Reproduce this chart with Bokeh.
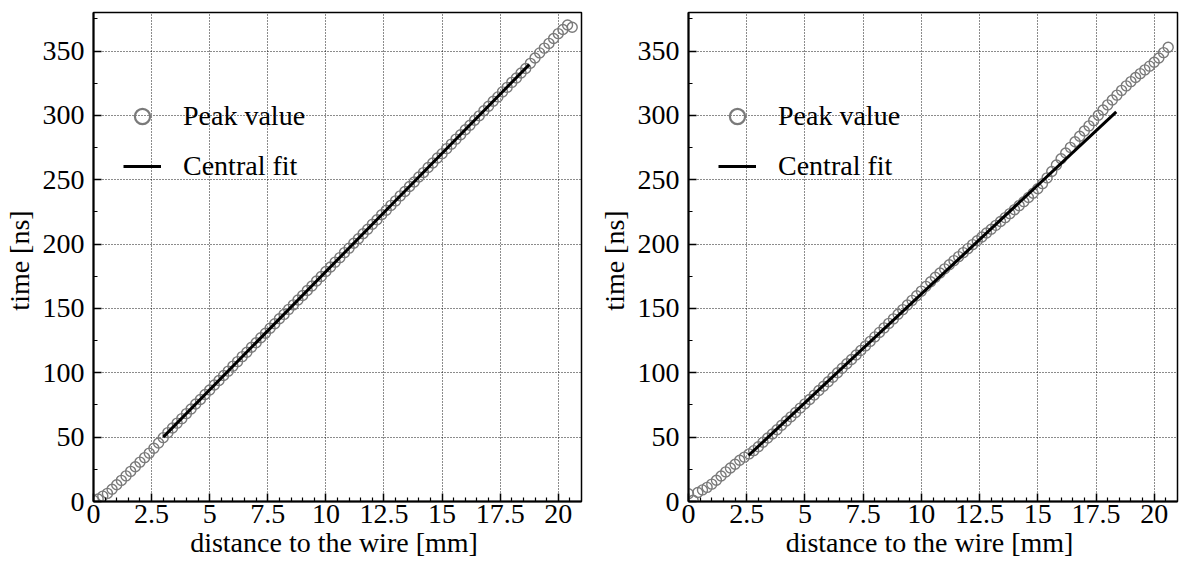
from bokeh.plotting import figure
from bokeh.layouts import row
from bokeh.models import FixedTicker, Range1d, Legend, LegendItem
from bokeh.embed import file_html
from bokeh.resources import INLINE

# ---------------- data ----------------
distance_mm = [
    0.0, 0.2, 0.4, 0.6, 0.8, 1.0, 1.2, 1.4, 1.6, 1.8,
    2.0, 2.2, 2.4, 2.6, 2.8, 3.0, 3.2, 3.4, 3.6, 3.8,
    4.0, 4.2, 4.4, 4.6, 4.8, 5.0, 5.2, 5.4, 5.6, 5.8,
    6.0, 6.2, 6.4, 6.6, 6.8, 7.0, 7.2, 7.4, 7.6, 7.8,
    8.0, 8.2, 8.4, 8.6, 8.8, 9.0, 9.2, 9.4, 9.6, 9.8,
    10.0, 10.2, 10.4, 10.6, 10.8, 11.0, 11.2, 11.4, 11.6, 11.8,
    12.0, 12.2, 12.4, 12.6, 12.8, 13.0, 13.2, 13.4, 13.6, 13.8,
    14.0, 14.2, 14.4, 14.6, 14.8, 15.0, 15.2, 15.4, 15.6, 15.8,
    16.0, 16.2, 16.4, 16.6, 16.8, 17.0, 17.2, 17.4, 17.6, 17.8,
    18.0, 18.2, 18.4, 18.6, 18.8, 19.0, 19.2, 19.4, 19.6, 19.8,
    20.0, 20.2, 20.4, 20.6,
]

peak_left_ns = [
    1.0, 2.0, 4.2, 6.3, 9.5, 13.0, 16.4, 19.9, 23.4, 27.0,
    30.6, 34.1, 37.6, 41.4, 45.4, 49.6, 53.5, 57.1, 60.9, 64.4,
    68.3, 71.9, 75.8, 79.3, 83.2, 86.6, 90.5, 94.0, 97.9, 101.3,
    105.2, 108.7, 112.6, 116.0, 119.9, 123.4, 127.3, 130.7, 134.6, 138.1,
    142.0, 145.4, 149.3, 152.8, 156.6, 160.1, 164.0, 167.5, 171.3, 174.8,
    178.7, 182.2, 186.0, 189.5, 193.4, 196.9, 200.7, 204.2, 208.1, 211.6,
    215.4, 218.9, 222.8, 226.3, 230.1, 233.6, 237.5, 240.9, 244.8, 248.3,
    252.2, 255.6, 259.5, 263.0, 266.9, 270.3, 274.2, 277.7, 281.6, 285.0,
    288.9, 292.4, 296.3, 299.7, 303.6, 307.1, 311.0, 314.4, 318.3, 321.8,
    325.7, 329.1, 333.0, 336.5, 340.5, 344.6, 348.6, 352.3, 356.0, 359.8,
    363.6, 366.8, 370.3, 368.5,
]

peak_right_ns = [
    6.0, 1.0, 7.0, 9.0, 11.0, 13.5, 16.5, 19.8, 23.0, 26.0,
    29.0, 32.0, 34.5, 37.0, 39.5, 42.5, 46.0, 49.3, 52.5, 55.8,
    59.2, 62.5, 65.8, 69.2, 72.6, 75.9, 79.3, 82.7, 86.2, 89.6,
    93.0, 96.5, 100.0, 103.5, 107.0, 110.4, 113.9, 117.4, 120.9, 124.4,
    127.9, 131.4, 134.9, 138.4, 141.9, 145.5, 149.1, 152.7, 156.3, 159.9,
    163.5, 167.2, 170.8, 174.3, 177.6, 180.8, 184.0, 187.2, 190.3, 193.4,
    196.5, 199.6, 202.6, 205.6, 208.6, 211.6, 214.6, 217.6, 220.6, 223.7,
    226.8, 229.9, 233.0, 236.2, 239.5, 243.0, 247.0, 251.5, 256.5, 261.5,
    266.3, 270.8, 275.2, 279.6, 283.8, 287.9, 291.9, 296.0, 300.2, 304.2,
    308.2, 312.0, 315.8, 319.5, 323.0, 326.3, 329.5, 332.5, 335.4, 338.3,
    341.3, 344.7, 348.8, 353.0,
]

fit_left_x = [3.0, 18.75]
fit_left_t = [50.0, 339.5]
fit_right_x = [2.58, 18.37]
fit_right_t = [35.8, 302.8]

x_ticks = [0, 2.5, 5, 7.5, 10, 12.5, 15, 17.5, 20]
x_tick_labels = ["0", "2.5", "5", "7.5", "10", "12.5", "15", "17.5", "20"]
x_minor = [0.5, 1, 1.5, 2, 3, 3.5, 4, 4.5, 5.5, 6, 6.5, 7, 8, 8.5, 9, 9.5,
           10.5, 11, 11.5, 12, 13, 13.5, 14, 14.5, 15.5, 16, 16.5, 17,
           18, 18.5, 19, 19.5, 20.5]
y_ticks = [0, 50, 100, 150, 200, 250, 300, 350]
y_minor = [25, 75, 125, 175, 225, 275, 325, 375]

x_title = "distance to the wire  [mm]"
y_title = "time  [ns]"
legend_labels = ["Peak value", "Central fit"]

FONT = "'Liberation Serif', 'Times New Roman', 'DejaVu Serif', serif"
FS = "28px"
NAN = float("nan")


def panel(times, fit_x, fit_t, width, border_left, border_right):
    p = figure(width=width, height=565,
               x_range=Range1d(0, 21), y_range=Range1d(0, 380),
               output_backend="svg", toolbar_location=None,
               min_border_left=border_left, min_border_right=border_right,
               min_border_top=12, min_border_bottom=64)
    p.background_fill_color = "white"
    p.border_fill_color = "white"
    p.outline_line_color = "black"
    p.outline_line_width = 1.5

    p.xaxis.ticker = FixedTicker(ticks=x_ticks, minor_ticks=x_minor)
    p.yaxis.ticker = FixedTicker(ticks=y_ticks, minor_ticks=y_minor)
    p.xaxis.major_label_overrides = {float(t): l for t, l in zip(x_ticks, x_tick_labels)}

    for ax in (p.xaxis[0], p.yaxis[0]):
        ax.axis_line_color = "black"
        ax.axis_line_width = 2
        ax.major_tick_line_color = "black"
        ax.minor_tick_line_color = "black"
        ax.major_tick_line_width = 1.5
        ax.minor_tick_line_width = 1.2
        ax.major_tick_in = 8
        ax.major_tick_out = 0
        ax.minor_tick_in = 4
        ax.minor_tick_out = 0
        ax.major_label_text_font = FONT
        ax.major_label_text_font_size = FS
        ax.major_label_text_color = "black"
        ax.axis_label_text_font = FONT
        ax.axis_label_text_font_size = FS
        ax.axis_label_text_font_style = "normal"
        ax.axis_label_text_color = "black"
    p.xaxis.axis_label = x_title
    p.yaxis.axis_label = y_title
    p.xaxis.major_label_standoff = 3
    p.xaxis.axis_label_standoff = 1
    p.yaxis.major_label_standoff = 9
    p.yaxis.axis_label_standoff = 5

    for g in (p.xgrid[0], p.ygrid[0]):
        g.grid_line_color = "black"
        g.grid_line_alpha = 0.9
        g.grid_line_width = 1
        g.grid_line_dash = "1 2"

    r_pts = p.scatter(distance_mm, times, marker="circle", size=10,
                      fill_color=None, line_color="#7a7a7a", line_width=1.4)
    r_fit = p.line(fit_x, fit_t, line_color="black", line_width=3)
    # legend key proxy (not drawn in the plot area): thicker circle outline
    r_pts_key = p.scatter([NAN], [NAN], marker="circle", size=10,
                          fill_color=None, line_color="#7a7a7a", line_width=2.2)

    legend = Legend(items=[LegendItem(label=legend_labels[0], renderers=[r_pts_key]),
                           LegendItem(label=legend_labels[1], renderers=[r_fit])],
                    location=(30, 315), border_line_color=None,
                    background_fill_alpha=0, padding=0, margin=0, spacing=10,
                    glyph_width=38, glyph_height=40, label_height=40,
                    label_standoff=22, label_text_font=FONT,
                    label_text_font_size=FS, label_text_color="black")
    p.add_layout(legend)
    return p


p1 = panel(peak_left_ns, fit_left_x, fit_left_t, 590, 92, 9)
p2 = panel(peak_right_ns, fit_right_x, fit_right_t, 589, 98, 2)
layout = row(p1, p2)

open("out.html", "w").write(file_html(layout, INLINE))
